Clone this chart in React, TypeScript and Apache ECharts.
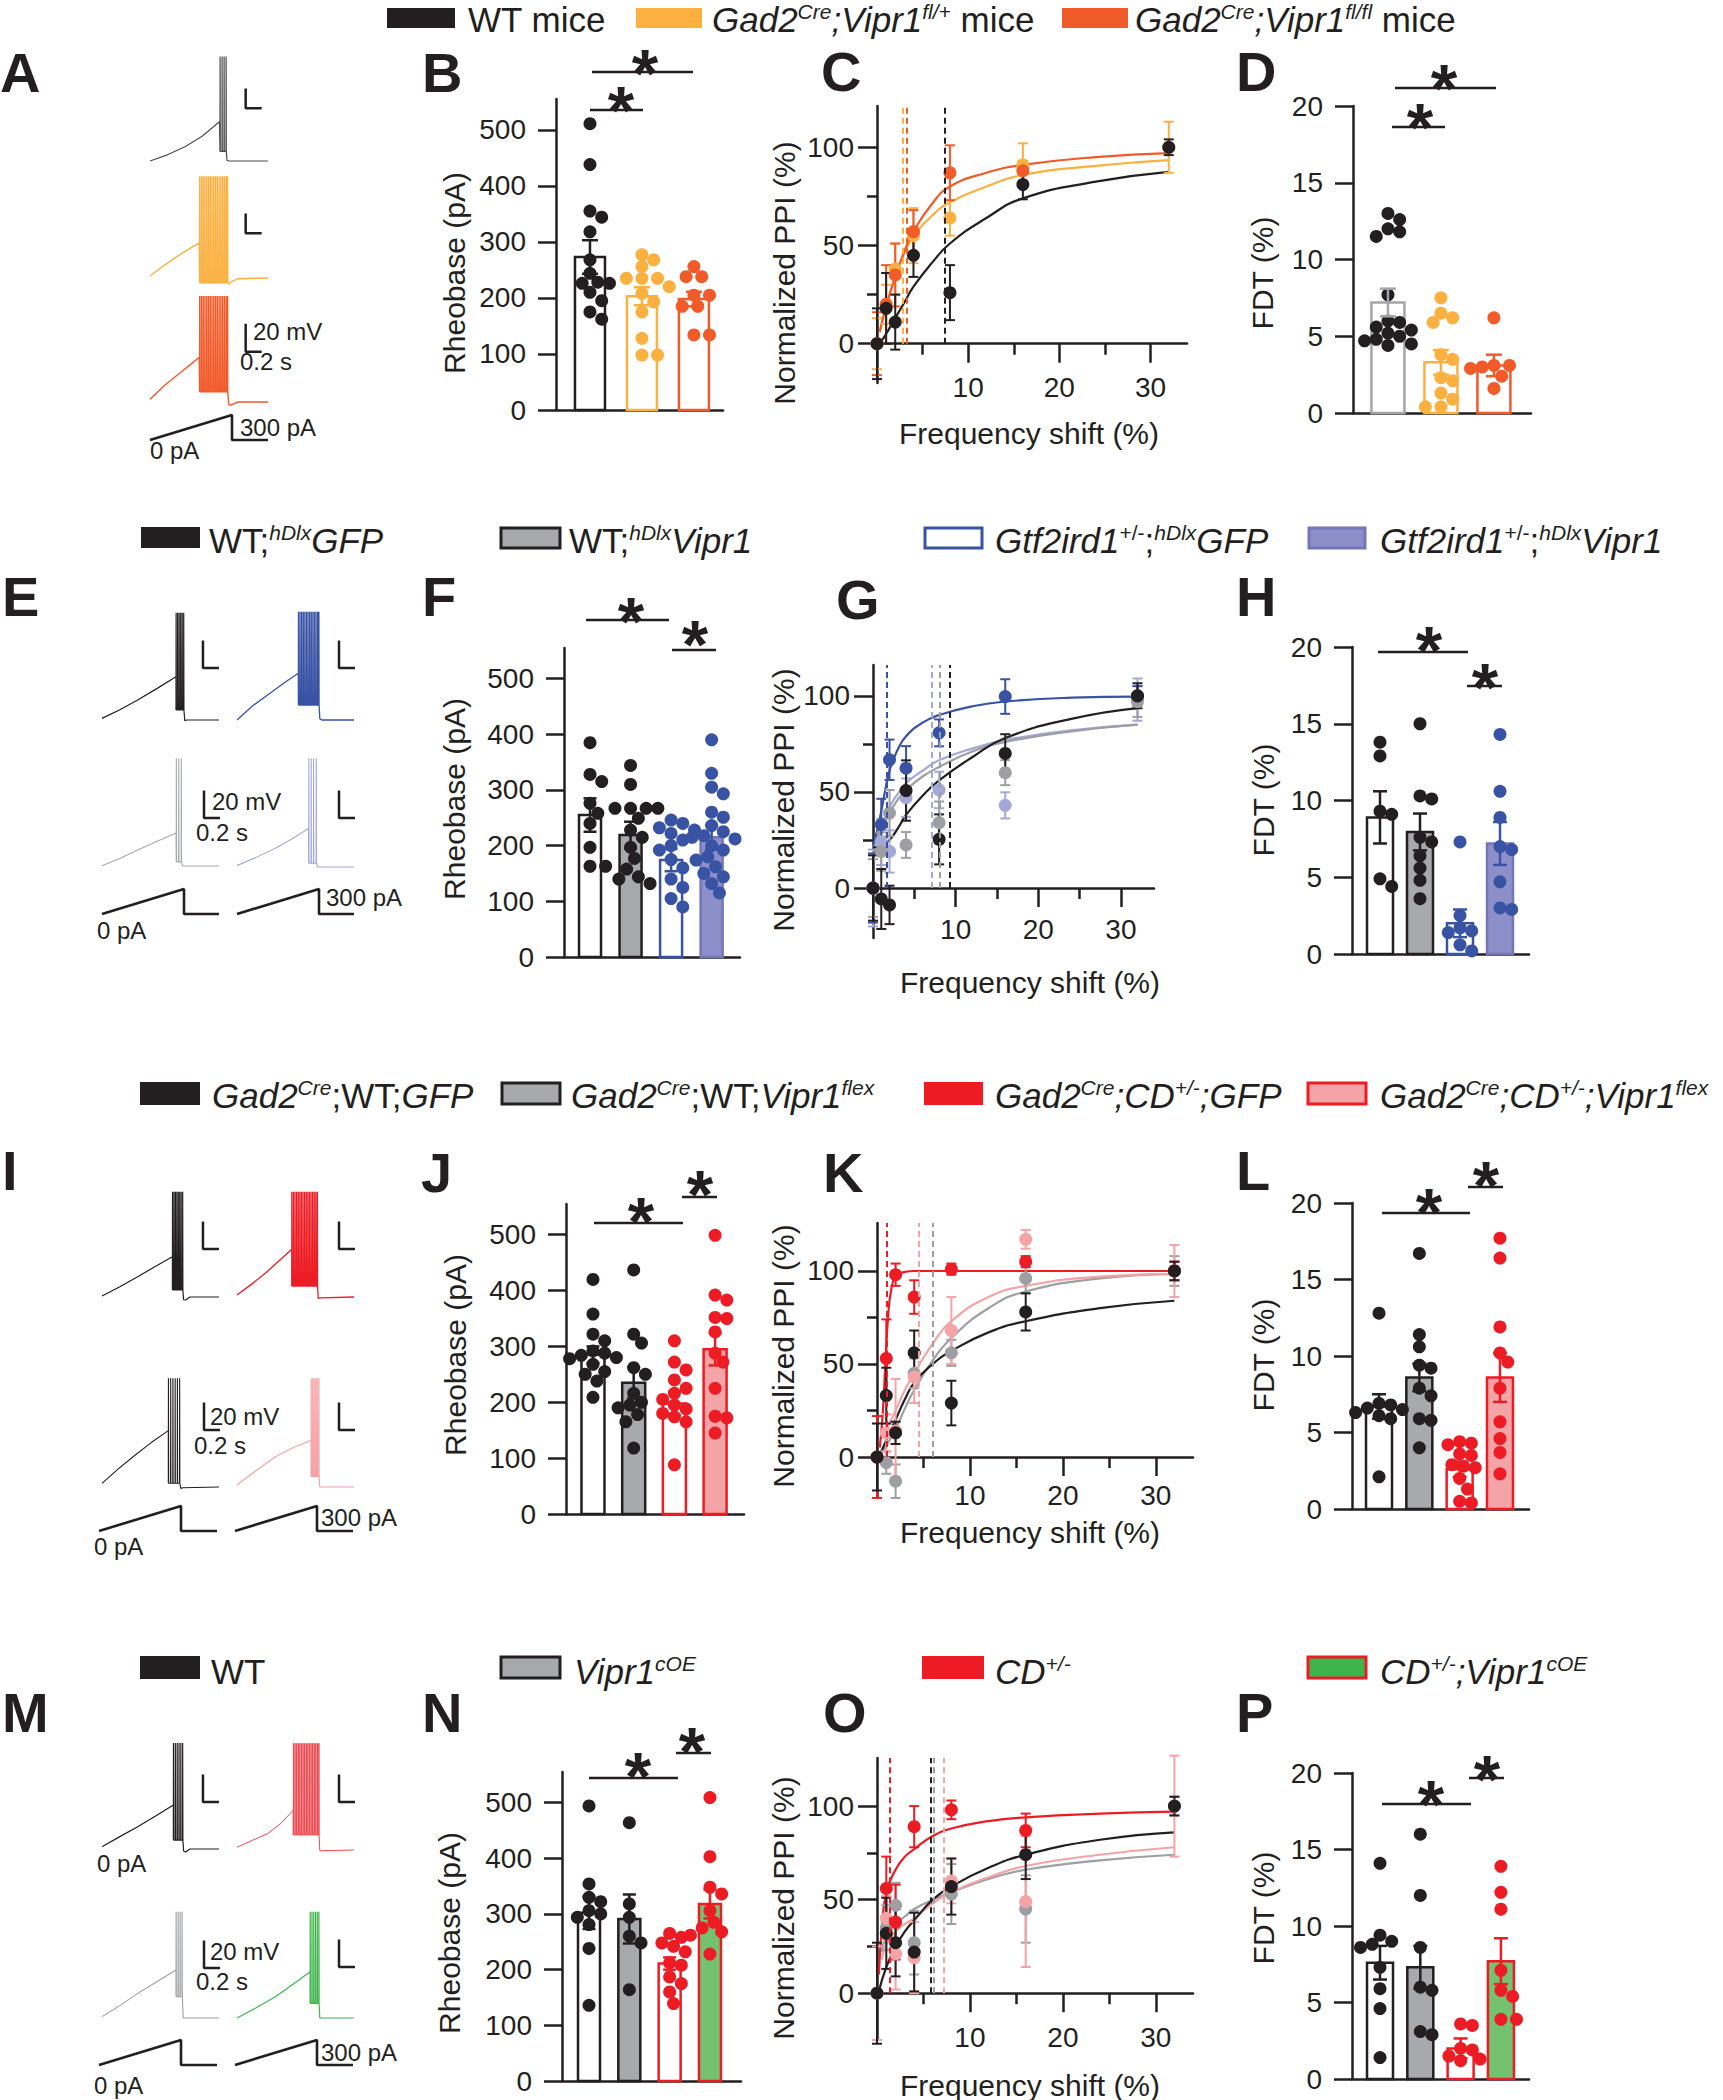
import React, { useEffect, useRef } from "react";
import * as echarts from "echarts";

const FONT = '"Liberation Sans", Arial, Helvetica, sans-serif';
const INK = "#231F20";
const ORANGE = "#FBB040";
const REDORANGE = "#F15A29";
const GRAY = "#A7A9AC";
const LIGHTGRAY = "#A3A5A8";
const MIDGRAY = "#9D9FA2";
const BLUE = "#3953A4";
const PURPLE = "#8C8FC9";
const PURPLE_EDGE = "#7377B8";
const LILAC = "#A4A8D6";
const RED = "#ED1C24";
const PINK = "#F4A3A7";
const GREEN = "#3DB54A";
const GREEN_BAR = "#74C271";
const WHITE = "#FFFFFF";

// ================= DATA =================
const RHEO_TICKS = [0, 100, 200, 300, 400, 500];
const FDT_TICKS = [0, 5, 10, 15, 20];
const PPI_TICKS = [0, 50, 100];
const PPI_MINOR = [25, 75];
const FS_TICKS = [10, 20, 30];
const FS_MINOR = [5, 15, 25];
const FREQ = [0, 1, 2, 4, 8, 16, 32];

// ---- Row 1: B (rheobase, pA)
const B_WT = [511, 438, 355, 344, 318, 268, 244, 228, 226, 226, 210, 195, 175, 162];
const B_HET = [277, 268, 256, 235, 235, 235, 220, 208, 193, 175, 128, 98, 98];
const B_HOM = [256, 238, 238, 205, 205, 185, 185, 134, 134];
const B_MEAN = [273, 203, 198];
const B_SEM = [30, 16, 13];
// ---- Row 1: D (FDT %)
const D_WT = [13.0, 12.6, 12.0, 11.8, 11.5, 7.7, 6.0, 5.9, 5.6, 5.4, 5.2, 5.0, 4.8, 4.7, 4.5, 4.4];
const D_HET = [7.5, 6.5, 6.2, 5.9, 3.8, 3.5, 2.3, 2.1, 1.3, 0.9, 0.4, 0.4];
const D_HOM = [6.2, 3.1, 3.1, 3.0, 2.9, 2.4, 1.6];
const D_MEAN = [7.2, 3.3, 3.1];
const D_SEM = [0.9, 0.8, 0.7];
// ---- Row 1: C (normalized PPI %)
const C_WT = [0, 18, 11, 45, 26, 81, 100];
const C_WT_ERR = [18, 18, 14, 11, 14, 7.5, 4];
const C_HET = [0, 20, 38, 55, 64, 91, 100];
const C_HET_ERR = [13, 10, 13, 14, 9, 11, 13];
const C_HOM = [0, 20, 35, 57, 87, 88, null];
const C_HOM_ERR = [16, 20, 16, 11, 14, 5, null];
const C_WT_FIT = [[0.3, 0], [1, 5], [2, 13], [3, 21], [4, 29], [6, 41], [8, 51], [12, 64], [16, 74], [24, 82.5], [32, 87.5]];
const C_HET_FIT = [[0.3, 6], [1, 19], [2, 34], [3, 46], [4, 54.5], [6, 65], [8, 72], [12, 80], [16, 86], [24, 90.5], [32, 93.4]];
const C_HOM_FIT = [[0.3, 6], [1, 19], [2, 34], [3, 47], [4, 57], [6, 71], [8, 80], [12, 87], [16, 91], [24, 95], [32, 97]];
const C_THR = [7.45, 2.85, 3.3]; // WT, fl/+, fl/fl

// ---- Row 2: F (rheobase)
const F_WT_GFP = [385, 328, 315, 276, 258, 240, 197, 163, 163];
const F_WT_VIPR = [344, 310, 267, 267, 267, 267, 249, 228, 215, 197, 177, 158, 144, 140, 132];
const F_GTF_GFP = [246, 240, 232, 228, 222, 210, 200, 192, 175, 160, 140, 125, 105, 90];
const F_GTF_VIPR = [390, 330, 305, 293, 260, 251, 236, 225, 218, 215, 212, 200, 192, 180, 174, 162, 150, 144, 132, 115];
const F_MEAN = [255, 219, 174, 215];
const F_SEM = [30, 24, 20, 22];
// ---- Row 2: H (FDT)
const H_WT_GFP = [13.8, 12.9, 9.3, 9.1, 4.9, 4.4];
const H_WT_VIPR = [15.0, 10.3, 10.1, 7.6, 7.3, 6.4, 5.6, 4.8, 3.6];
const H_GTF_GFP = [7.3, 2.5, 1.7, 1.5, 1.4, 0.6, 0.2];
const H_GTF_VIPR = [14.3, 10.6, 8.9, 7.0, 6.8, 4.7, 3.0, 2.9];
const H_MEAN = [8.9, 7.95, 2.0, 7.2];
const H_SEM = [1.7, 1.2, 0.9, 1.4];
// ---- Row 2: G (PPI)
const G_WT_GFP = [0, -5.7, -8.8, 50.7, 25.3, 70, 100];
const G_WT_GFP_ERR = [17, 15.6, 10, 15.7, 13, 10, 6.5];
const G_WT_VIPR = [0, 19, 39, 22.4, 34, 60, 97];
const G_WT_VIPR_ERR = [15, 10, 12, 6.7, 11, 6.5, 8];
const G_GTF_GFP = [0, 33, 66.7, 62.3, 80.7, 99.6, 100];
const G_GTF_GFP_ERR = [18, 13.4, 10.5, 11.5, 7, 9, 5];
const G_GTF_VIPR = [0, 24, 19, 47, 51, 43, 98];
const G_GTF_VIPR_ERR = [20, 12, 11, 10, 9.5, 6.8, 11];
const G_WT_GFP_FIT = [[0, 21], [1, 22], [2, 25], [3, 31], [4, 38], [6, 48], [8, 56], [12, 68], [16, 78], [24, 88], [32, 93.6]];
const G_WT_VIPR_FIT = [[0, 21], [1, 30], [2, 39], [3, 46], [4, 51], [6, 58], [8, 63], [12, 71], [16, 76], [24, 81.5], [32, 85]];
const G_GTF_GFP_FIT = [[0, 22], [0.5, 30], [1, 40], [2, 61], [3, 72], [4, 79], [6, 86], [8, 90], [12, 94.5], [16, 97], [24, 99], [32, 99.6]];
const G_GTF_VIPR_FIT = [[0, 22], [1, 32], [2, 42], [3, 49], [4, 54.6], [6, 61], [8, 66.5], [12, 72.5], [16, 77], [24, 82], [32, 85]];
const G_THR = [9.3, 8.1, 1.66, 7.1]; // WT;GFP, WT;Vipr1, Gtf;GFP, Gtf;Vipr1

// ---- Row 3: J (rheobase)
const J_WT_GFP = [420, 358, 322, 310, 292, 288, 284, 280, 278, 268, 255, 250, 238, 209];
const J_WT_VIPR = [437, 322, 306, 262, 250, 216, 200, 195, 190, 178, 165, 118];
const J_CD_GFP = [310, 272, 258, 240, 225, 216, 205, 195, 188, 180, 174, 165, 88];
const J_CD_VIPR = [499, 392, 383, 352, 350, 326, 288, 272, 225, 175, 172, 145];
const J_MEAN = [285, 235, 198, 295];
const J_SEM = [15, 28, 21, 29];
// ---- Row 3: L (FDT)
const L_WT_GFP = [12.8, 6.9, 6.8, 6.6, 6.5, 6.3, 6.1, 5.9, 2.1];
const L_WT_VIPR = [16.7, 11.4, 10.6, 9.4, 9.2, 7.9, 7.4, 5.9, 5.8, 4.0];
const L_CD_GFP = [4.4, 4.3, 4.2, 3.6, 3.5, 2.9, 2.8, 2.7, 2.0, 1.3, 0.5, 0.4];
const L_CD_VIPR = [17.7, 16.4, 11.9, 10.2, 9.6, 7.9, 5.7, 4.6, 3.7, 2.3];
const L_MEAN = [6.7, 8.6, 2.6, 8.6];
const L_SEM = [0.8, 0.9, 0.5, 1.6];
// ---- Row 3: K (PPI)
const K_WT_GFP = [0, 33, 13, 56, 29, 78, 100];
const K_WT_GFP_ERR = [18, 15, 6, 12, 12, 10, 5];
const K_WT_VIPR = [null, -3, -13, 45, 56, 96, 100];
const K_WT_VIPR_ERR = [null, 6, 9, 8, 7, 8, 8];
const K_CD_GFP = [0, 53, 98, 86, 101, 105, 100];
const K_CD_GFP_ERR = [22, 21, 6, 9, 3, 3, 5];
const K_CD_VIPR = [null, 13, 14, 43, 68, 117, 100];
const K_CD_VIPR_ERR = [null, 10, 28, 14, 18, 5, 14];
const K_WT_GFP_FIT = [[0.3, 1], [1, 9], [2, 20], [3, 31], [4, 40], [6, 50], [8, 57], [12, 67], [16, 73], [24, 80], [32, 84]];
const K_WT_VIPR_FIT = [[0.5, 2], [1, 6], [2, 15], [3, 26], [4, 36], [6, 52], [8, 64], [12, 80], [16, 89], [24, 96], [32, 98.5]];
const K_CD_GFP_FIT = [[0.3, 5], [0.6, 22], [0.9, 50], [1.2, 76], [1.5, 89], [2, 97], [3, 99.5], [4, 100], [8, 100], [16, 100], [32, 100]];
const K_CD_VIPR_FIT = [[0.4, 10], [1, 15], [2, 25], [3, 36], [4, 45], [6, 61], [8, 73], [12, 86], [16, 92], [24, 97], [32, 98.5]];
const K_THR = [null, 6.0, 1.0, 4.5];

// ---- Row 4: N (rheobase)
const N_WT = [494, 354, 330, 322, 306, 300, 294, 281, 238, 136];
const N_OE = [464, 318, 294, 260, 248, 164];
const N_CD = [265, 258, 248, 242, 232, 212, 208, 187, 175, 160, 139];
const N_CD_OE = [509, 403, 348, 336, 306, 285, 275, 268, 262, 228];
const N_MEAN = [302, 291, 211, 318];
const N_SEM = [29, 44, 11, 26];
// ---- Row 4: P (FDT)
const P_WT = [14.1, 9.4, 9.0, 8.8, 8.6, 7.3, 5.9, 4.6, 1.4];
const P_OE = [16.0, 12.0, 8.6, 6.0, 5.8, 3.1, 2.9];
const P_CD = [3.6, 3.5, 2.0, 1.9, 1.5, 1.3, 1.2];
const P_CD_OE = [13.9, 12.2, 11.1, 7.1, 5.8, 5.4, 3.9, 3.9];
const P_MEAN = [7.6, 7.3, 2.0, 7.7];
const P_SEM = [1.1, 1.4, 0.65, 1.5];
// ---- Row 4: O (PPI)
const O_WT = [0, 32, 27, 22, 57, 74, 100];
const O_WT_ERR = [27, 19, 18, 21, 15, 13, 5];
const O_OE = [null, 35, 47, 27, 53, 45, 100];
const O_OE_ERR = [null, 12, 12, 17, 16, 18, 5];
const O_CD = [null, 56, 38, 89, 98, 87, null];
const O_CD_ERR = [null, 17, 20, 11, 5, 9, null];
const O_CD_OE = [0, 40, 21, 19, 60, 49, 100];
const O_CD_OE_ERR = [25, 12, 19, 19, 12, 35, 27];
const O_WT_FIT = [[0.2, 1], [1, 14], [2, 25], [3, 33], [4, 39], [6, 50], [8, 57], [12, 67], [16, 74], [24, 82], [32, 86]];
const O_OE_FIT = [[0.5, 22], [1, 30], [2, 37], [3, 41], [4, 45], [6, 50], [8, 54], [12, 61], [16, 66], [24, 71], [32, 74]];
const O_CD_FIT = [[0.2, 10], [0.5, 33], [1, 54], [2, 66], [3, 73], [4, 77], [6, 84], [8, 88], [12, 92], [16, 94], [24, 96], [32, 97]];
const O_CD_OE_FIT = [[0.5, 18], [1, 26], [2, 33], [3, 37], [4, 40], [6, 48], [8, 54], [12, 62], [16, 68], [24, 74], [32, 78]];
const O_THR = [5.8, 6.1, 1.4, 7.2];

// ---- Example traces (time ms, membrane potential mV relative to rest)
const TR_A1 = { ramp: [[0, 0], [217, 4.5], [437, 10.4], [651, 18], [868, 28.5]], spikes: [875, 900, 925, 950], peak: 76, trough: 7, tail: [[962, 0.5], [985, 0], [1475, 0]] };
const TR_A2 = { ramp: [[0, 1.5], [150, 8], [305, 14.5], [470, 20.5], [616, 25.5]], spikes: [620, 642, 664, 686, 708, 730, 752, 774, 796, 818, 840, 862, 884, 906, 928, 950, 968], peak: 74, trough: -3.4, tail: [[985, -4.5], [1010, -3], [1100, -0.5], [1475, 0]] };
const TR_A3 = { ramp: [[0, 2], [180, 12], [362, 20.5], [500, 27], [616, 32.5]], spikes: [620, 642, 664, 686, 708, 730, 752, 774, 796, 818, 840, 862, 884, 906, 928, 950, 968], peak: 77, trough: 7.5, tail: [[985, -2], [1010, -2.2], [1100, 0], [1475, 0]] };
const TR_E1 = { ramp: [[0, 1.2], [223, 7.5], [446, 14.5], [690, 23], [925, 31.5]], spikes: [925, 944, 963, 982, 1001, 1020], peak: 78, trough: 7.3, tail: [[1035, -0.5], [1060, 0], [1462, 0]] };
const TR_E2 = { ramp: [[0, 0], [200, 10.5], [413, 19.4], [600, 27.5], [767, 34]], spikes: [767, 787, 807, 827, 847, 867, 887, 907, 927, 947, 967, 987, 1007, 1022], peak: 78.8, trough: 10.9, tail: [[1035, 1], [1060, 0], [1462, 0]] };
const TR_E3 = { ramp: [[0, 0.2], [223, 5.5], [446, 11.6], [690, 18], [925, 24]], spikes: [928, 958, 990], peak: 78.3, trough: 3, tail: [[1005, 0], [1462, 0]] };
const TR_E4 = { ramp: [[0, 1], [240, 7], [480, 13.6], [690, 20.5], [894, 28]], spikes: [896, 926, 956, 990], peak: 79, trough: 2.7, tail: [[1005, 0], [1462, 0]] };
const TR_I1 = { ramp: [[0, 0.7], [223, 7.5], [446, 14.8], [660, 22], [880, 29.3]], spikes: [880, 898, 916, 934, 952, 970, 988, 1007], peak: 76.6, trough: 5.1, tail: [[1020, -2], [1045, -2.2], [1100, 0], [1462, 0]] };
const TR_I2 = { ramp: [[0, 1.5], [175, 9], [353, 17.2], [520, 26], [684, 34.7]], spikes: [684, 704, 724, 744, 764, 784, 804, 824, 844, 864, 884, 904, 924, 944, 964, 984, 1003], peak: 76.6, trough: 8, tail: [[1015, -1], [1040, -0.7], [1462, 0]] };
const TR_I3 = { ramp: [[0, 2.7], [200, 13], [415, 23.3], [620, 32.5], [829, 41]], spikes: [829, 857, 885, 913, 941, 969], peak: 79, trough: 2.7, tail: [[985, -1], [1010, -0.5], [1462, 0]] };
const TR_I4 = { ramp: [[0, 1.5], [240, 12], [480, 22], [700, 28.5], [926, 34]], spikes: [926, 945, 964, 983, 1002, 1022], peak: 79, trough: 7.5, tail: [[1035, 0], [1462, 0]] };
const TR_M1 = { ramp: [[0, 1.7], [223, 9], [446, 16.2], [670, 24], [892, 32]], spikes: [892, 915, 938, 961, 984, 1007], peak: 77, trough: 6.5, tail: [[1020, -1.5], [1045, -2.2], [1100, 0], [1462, 0]] };
const TR_M2 = { ramp: [[0, 2], [190, 7], [385, 12], [550, 19.5], [704, 29]], spikes: [704, 724, 744, 764, 784, 804, 824, 844, 864, 884, 904, 924, 944, 964, 984, 1004, 1022], peak: 77.6, trough: 10.9, tail: [[1035, -0.5], [1060, -0.5], [1462, 0]] };
const TR_M3 = { ramp: [[0, 1], [223, 9], [446, 17.9], [690, 26.5], [925, 34.9]], spikes: [925, 950, 975, 1000], peak: 77.3, trough: 15.5, tail: [[1015, 0], [1462, 0]] };
const TR_M4 = { ramp: [[0, 0], [240, 7.5], [480, 15.5], [700, 24.5], [914, 33.7]], spikes: [914, 936, 958, 980, 1002, 1022], peak: 77.3, trough: 10.7, tail: [[1035, 0], [1462, 0]] };
// Current ramp (ms, pA)
const STIM_RAMP = [[0, 0], [1025, 300], [1025, 0]];

// ================= LAYOUT =================
const PX_MS = 0.08;
const PX_MV = 1.375;
const PX_PA = 25 / 300;
const AXW = 2.5;
const DOT = 13;

function swarmOffsets(values: number[], pxPerY: number, d: number): number[] {
  const order = values.map((_, i) => i).sort((a, b) => values[b] - values[a]);
  const placed: number[][] = [];
  const out = new Array(values.length).fill(0);
  for (const i of order) {
    const y = values[i] * pxPerY;
    let x = 0;
    for (let k = 0; k < 60; k++) {
      const cand = k === 0 ? 0 : (k % 2 ? 1 : -1) * Math.ceil(k / 2) * d * 0.3;
      if (placed.every(([px, py]) => (px - cand) ** 2 + (py - y) ** 2 >= (d * 0.9) ** 2)) {
        x = cand;
        break;
      }
    }
    placed.push([x, y]);
    out[i] = x;
  }
  return out;
}

function buildOption() {
  const grid: any[] = [];
  const xAxis: any[] = [];
  const yAxis: any[] = [];
  const series: any[] = [];
  const graphic: any[] = [];
  const lineStyle = { color: INK, width: AXW };
  const labelStyle = { fontSize: 28, fontFamily: FONT, color: INK };

  const addGrid = (left: number, top: number, width: number, height: number) => {
    grid.push({ left, top, width, height, containLabel: false, show: false });
    return grid.length - 1;
  };

  const errSeries = (xi: number, yi: number, items: number[][], color: string, capW: number, lw: number, z: number) => ({
    type: "custom",
    xAxisIndex: xi,
    yAxisIndex: yi,
    z,
    clip: false,
    silent: true,
    data: items,
    renderItem: (params: any, api: any) => {
      const x = api.value(0), m = api.value(1), s = api.value(2);
      const a = api.coord([x, m + s]);
      const b = api.coord([x, m - s]);
      const h = capW / 2;
      const st = { stroke: color, lineWidth: lw };
      return {
        type: "group",
        children: [
          { type: "line", shape: { x1: a[0], y1: a[1], x2: b[0], y2: b[1] }, style: st },
          { type: "line", shape: { x1: a[0] - h, y1: a[1], x2: a[0] + h, y2: a[1] }, style: st },
          { type: "line", shape: { x1: b[0] - h, y1: b[1], x2: b[0] + h, y2: b[1] }, style: st },
        ],
      };
    },
  });

  // ---------- bar + dot panels ----------
  const barPanel = (L: any, groups: any[]) => {
    const gi = addGrid(L.left, L.top, L.right - L.left, L.bottom - L.top);
    const xi = xAxis.length;
    xAxis.push({
      type: "value", gridIndex: gi, min: L.xMin, max: L.xMax,
      axisLine: { show: true, onZero: false, lineStyle }, axisTick: { show: false },
      axisLabel: { show: false }, splitLine: { show: false },
    });
    const yi = yAxis.length;
    yAxis.push({
      type: "value", gridIndex: gi, min: 0, max: L.yMax,
      axisLine: { show: true, onZero: false, lineStyle },
      axisTick: { show: true, length: 18, lineStyle, customValues: L.ticks },
      axisLabel: { show: true, customValues: L.ticks, margin: 30, ...labelStyle },
      splitLine: { show: false },
    });
    const pxX = (L.right - L.left) / (L.xMax - L.xMin);
    const pxY = (L.bottom - L.top) / L.yMax;
    series.push({
      type: "custom", xAxisIndex: xi, yAxisIndex: yi, z: 2, clip: false, silent: true,
      data: groups.map((g, i) => [i, g.mean]),
      renderItem: (params: any, api: any) => {
        const g = groups[params.dataIndex];
        const base = api.coord([api.value(0), 0]);
        const top = api.coord([api.value(0), api.value(1)]);
        return {
          type: "rect",
          shape: { x: base[0] - L.barW / 2, y: top[1], width: L.barW, height: base[1] - top[1] },
          style: { fill: g.fill, stroke: g.stroke, lineWidth: 2.5 },
        };
      },
    });
    groups.forEach((g, i) => {
      const offs = swarmOffsets(g.values, pxY, DOT);
      series.push({
        type: "scatter", xAxisIndex: xi, yAxisIndex: yi, z: 3, silent: true,
        symbol: "circle", symbolSize: DOT,
        itemStyle: { color: g.dot, opacity: 1 },
        data: g.values.map((v: number, k: number) => [i + offs[k] / pxX, v]),
      });
    });
    groups.forEach((g, i) => {
      series.push(errSeries(xi, yi, [[i, g.mean, g.sem]], g.err, L.capW, 2.5, 4));
    });
  };

  // ---------- PPI panels ----------
  const ppiPanel = (L: any, groups: any[]) => {
    const gi = addGrid(L.left, L.top, L.width, L.height);
    const zeroY = L.top + (L.height * L.yMax) / (L.yMax - L.yMin);
    const off = zeroY - (L.top + L.height); // negative: lift x axis onto y = 0
    const xi = xAxis.length;
    xAxis.push({
      type: "value", gridIndex: gi, position: "bottom", offset: off, min: 0, max: L.xMax,
      axisLine: { show: true, onZero: false, lineStyle },
      axisTick: { show: true, length: 19, lineStyle, customValues: FS_TICKS },
      axisLabel: { show: true, customValues: FS_TICKS, margin: L.xMargin, ...labelStyle },
      splitLine: { show: false },
    });
    xAxis.push({
      type: "value", gridIndex: gi, position: "bottom", offset: off, min: 0, max: L.xMax,
      axisLine: { show: false, onZero: false },
      axisTick: { show: true, length: 11, lineStyle, customValues: FS_MINOR },
      axisLabel: { show: false }, splitLine: { show: false },
    });
    const yi = yAxis.length;
    yAxis.push({
      type: "value", gridIndex: gi, position: "left", min: L.yMin, max: L.yMax,
      axisLine: { show: true, onZero: false, lineStyle },
      axisTick: { show: true, length: 19, lineStyle, customValues: PPI_TICKS },
      axisLabel: { show: true, customValues: PPI_TICKS, margin: 23, ...labelStyle },
      splitLine: { show: false },
    });
    yAxis.push({
      type: "value", gridIndex: gi, position: "left", min: L.yMin, max: L.yMax,
      axisLine: { show: false, onZero: false },
      axisTick: { show: true, length: 10, lineStyle, customValues: PPI_MINOR },
      axisLabel: { show: false }, splitLine: { show: false },
    });
    groups.forEach((g) => {
      series.push({
        type: "line", xAxisIndex: xi, yAxisIndex: yi, z: 2, silent: true,
        data: g.fit, smooth: 0.5, showSymbol: false, symbol: "none",
        lineStyle: { color: g.color, width: 2.2 },
        markLine: g.thr == null ? undefined : {
          silent: true, symbol: ["none", "none"], label: { show: false },
          lineStyle: { color: g.color, type: [6, 4], width: 2 },
          emphasis: { disabled: true },
          data: [[{ coord: [g.thr, 0] }, { coord: [g.thr, L.yMax] }]],
        },
      });
    });
    groups.forEach((g) => {
      const items: number[][] = [];
      FREQ.forEach((f, i) => {
        if (g.y[i] != null && g.err[i] != null) items.push([f, g.y[i], g.err[i]]);
      });
      series.push(errSeries(xi, yi, items, g.color, 10, 2, 3));
    });
    groups.forEach((g) => {
      const pts: number[][] = [];
      FREQ.forEach((f, i) => { if (g.y[i] != null) pts.push([f, g.y[i]]); });
      series.push({
        type: "scatter", xAxisIndex: xi, yAxisIndex: yi, z: 4, silent: true,
        symbol: "circle", symbolSize: 13, itemStyle: { color: g.color, opacity: 1 }, data: pts,
      });
    });
  };

  // ---------- traces ----------
  const trace = (tr: any, left: number, base: number, color: string, sb: number[], lw: number) => {
    const gi = addGrid(left, base - 100 * PX_MV, 1475 * PX_MS, 120 * PX_MV);
    const xi = xAxis.length;
    xAxis.push({ type: "value", gridIndex: gi, min: 0, max: 1475, show: false });
    const yi = yAxis.length;
    yAxis.push({ type: "value", gridIndex: gi, min: -20, max: 100, show: false });
    const pts: number[][] = tr.ramp.slice();
    tr.spikes.forEach((s: number) => {
      pts.push([s, tr.trough], [s + 1.5, tr.peak], [s + 4, tr.trough]);
    });
    tr.tail.forEach((p: number[]) => pts.push(p));
    series.push({
      type: "line", xAxisIndex: xi, yAxisIndex: yi, silent: true, clip: false,
      data: pts, showSymbol: false, symbol: "none", lineStyle: { color, width: lw },
    });
    // scale bar: sb = [t, v, height in mV], 200 ms wide
    series.push({
      type: "line", xAxisIndex: xi, yAxisIndex: yi, silent: true, clip: false,
      data: [[sb[0], sb[1] + sb[2]], [sb[0], sb[1]], [sb[0] + 200, sb[1]]],
      showSymbol: false, symbol: "none", lineStyle: { color: INK, width: 2.5 },
    });
  };
  const stim = (left: number, bottom: number, end: number) => {
    const gi = addGrid(left, bottom - 300 * PX_PA, end * PX_MS, 300 * PX_PA);
    const xi = xAxis.length;
    xAxis.push({ type: "value", gridIndex: gi, min: 0, max: end, show: false });
    const yi = yAxis.length;
    yAxis.push({ type: "value", gridIndex: gi, min: 0, max: 300, show: false });
    series.push({
      type: "line", xAxisIndex: xi, yAxisIndex: yi, silent: true, clip: false,
      data: [...STIM_RAMP, [end, 0]], showSymbol: false, symbol: "none",
      lineStyle: { color: INK, width: 2.6 },
    });
  };

  // ---------- text helpers ----------
  const text = (x: number, y: number, t: string, size: number, extra: any = {}) => {
    graphic.push({
      type: "text", x, y, silent: true, rotation: extra.rotation || 0,
      style: {
        text: t, fontSize: size, fontFamily: FONT, fill: INK,
        fontWeight: extra.bold ? "bold" : "normal",
        textAlign: extra.align || "left", textVerticalAlign: "middle",
      },
    });
  };
  const vname = (x: number, y: number, t: string) => text(x, y, t, 30, { rotation: Math.PI / 2, align: "center" });
  const letter = (x: number, y: number, t: string) => text(x, y, t, 56, { bold: true });
  const sig = (x1: number, x2: number, y: number, ax: number, ay: number) => {
    graphic.push({ type: "line", silent: true, shape: { x1, y1: y, x2, y2: y }, style: { stroke: INK, lineWidth: 2.5 } });
    text(ax, ay + 15, "*", 68, { bold: true, align: "center" });
  };
  const LEG_RICH = {
    n: { fontSize: 35, fontFamily: FONT, fill: INK, lineHeight: 36 },
    i: { fontSize: 35, fontFamily: FONT, fontStyle: "italic", fill: INK, lineHeight: 36 },
    s: { fontSize: 21, fontFamily: FONT, fill: INK, lineHeight: 20, verticalAlign: "top" },
    si: { fontSize: 21, fontFamily: FONT, fontStyle: "italic", fill: INK, lineHeight: 20, verticalAlign: "top" },
  };
  const legend = (rx: number, ry: number, rw: number, rh: number, fill: string, stroke: string | null, tx: number, ty: number, rich: string) => {
    graphic.push({
      type: "rect", silent: true, shape: { x: rx, y: ry, width: rw, height: rh },
      style: { fill, stroke: stroke || "none", lineWidth: stroke ? 3 : 0 },
    });
    graphic.push({
      type: "text", x: tx, y: ty, silent: true,
      style: { text: rich, textAlign: "left", textVerticalAlign: "middle", rich: LEG_RICH },
    });
  };

  // ================= ROW 1 =================
  legend(387, 8, 68, 20, INK, null, 468, 19, "{n|WT mice}");
  legend(636, 8, 66, 20, ORANGE, null, 712, 19, "{i|Gad2}{si|Cre}{i|;Vipr1}{si|fl/+}{n| mice}");
  legend(1062, 8, 66, 20, REDORANGE, null, 1135, 19, "{i|Gad2}{si|Cre}{i|;Vipr1}{si|fl/fl}{n| mice}");
  letter(0, 72, "A"); letter(422, 72, "B"); letter(821, 71, "C"); letter(1236, 71, "D");

  [
    { tr: TR_A1, left: 150, base: 161, color: "#4D4D4F", sb: [1196, 38.3, 14.5], lw: 1.2 },
    { tr: TR_A2, left: 150, base: 278, color: ORANGE, sb: [1196, 32.5, 14.5], lw: 1.4 },
    { tr: TR_A3, left: 150, base: 402, color: REDORANGE, sb: [1196, 36.6, 20.4], lw: 1.4 },
  ].forEach((t) => trace(t.tr, t.left, t.base, t.color, t.sb, t.lw));
  stim(150, 440, 1475);
  text(253, 331, "20 mV", 24); text(240, 361, "0.2 s", 24);
  text(240, 427, "300 pA", 24); text(150, 450, "0 pA", 24);

  barPanel(
    { left: 556, top: 99, right: 723, bottom: 410, yMax: 555, ticks: RHEO_TICKS, xMin: -0.654, xMax: 2.56, barW: 30, capW: 16 },
    [
      { values: B_WT, mean: B_MEAN[0], sem: B_SEM[0], fill: WHITE, stroke: INK, dot: INK, err: INK },
      { values: B_HET, mean: B_MEAN[1], sem: B_SEM[1], fill: WHITE, stroke: ORANGE, dot: ORANGE, err: ORANGE },
      { values: B_HOM, mean: B_MEAN[2], sem: B_SEM[2], fill: WHITE, stroke: REDORANGE, dot: REDORANGE, err: REDORANGE },
    ]
  );
  vname(454, 273, "Rheobase (pA)");
  sig(592, 693, 72, 645, 58);
  sig(590, 643, 110, 621, 95);

  ppiPanel(
    { left: 877, top: 106, width: 310, height: 277, yMin: -20, yMax: 121, xMax: 34, xMargin: 30 },
    [
      { color: ORANGE, y: C_HET, err: C_HET_ERR, fit: C_HET_FIT, thr: C_THR[1] },
      { color: REDORANGE, y: C_HOM, err: C_HOM_ERR, fit: C_HOM_FIT, thr: C_THR[2] },
      { color: INK, y: C_WT, err: C_WT_ERR, fit: C_WT_FIT, thr: C_THR[0] },
    ]
  );
  vname(784, 273, "Normalized PPI (%)");
  text(1029, 433, "Frequency shift (%)", 30, { align: "center" });

  barPanel(
    { left: 1353, top: 106, right: 1531, bottom: 413, yMax: 20, ticks: FDT_TICKS, xMin: -0.66, xMax: 2.7, barW: 33, capW: 16 },
    [
      { values: D_WT, mean: D_MEAN[0], sem: D_SEM[0], fill: WHITE, stroke: LIGHTGRAY, dot: INK, err: LIGHTGRAY },
      { values: D_HET, mean: D_MEAN[1], sem: D_SEM[1], fill: WHITE, stroke: ORANGE, dot: ORANGE, err: ORANGE },
      { values: D_HOM, mean: D_MEAN[2], sem: D_SEM[2], fill: WHITE, stroke: REDORANGE, dot: REDORANGE, err: REDORANGE },
    ]
  );
  vname(1262, 273, "FDT (%)");
  sig(1395, 1496, 88, 1444, 73);
  sig(1392, 1445, 127, 1420, 112);

  // ================= ROW 2 =================
  legend(141, 527, 59, 21, INK, null, 209, 540, "{n|WT;}{si|hDlx}{i|GFP}");
  legend(501, 528, 59, 20, GRAY, INK, 569, 540, "{n|WT;}{si|hDlx}{i|Vipr1}");
  legend(925, 528, 57, 20, WHITE, BLUE, 995, 540, "{i|Gtf2ird1}{s|+/-}{n|;}{si|hDlx}{i|GFP}");
  legend(1309, 528, 56, 20, PURPLE, PURPLE_EDGE, 1380, 540, "{i|Gtf2ird1}{s|+/-}{n|;}{si|hDlx}{i|Vipr1}");
  letter(2, 596, "E"); letter(422, 596, "F"); letter(836, 599, "G"); letter(1236, 596, "H");

  [
    { tr: TR_E1, left: 102, base: 720, color: INK, sb: [1262, 37.8, 20], lw: 1.2 },
    { tr: TR_E2, left: 237, base: 720, color: BLUE, sb: [1275, 37.8, 20], lw: 1.3 },
    { tr: TR_E3, left: 102, base: 866, color: GRAY, sb: [1275, 35, 20], lw: 1.1 },
    { tr: TR_E4, left: 237, base: 867, color: LILAC, sb: [1275, 35.6, 20], lw: 1.1 },
  ].forEach((t) => trace(t.tr, t.left, t.base, t.color, t.sb, t.lw));
  stim(102, 914, 1462);
  stim(237, 914, 1462);
  text(212, 801, "20 mV", 24); text(196, 832, "0.2 s", 24);
  text(326, 897, "300 pA", 24); text(97, 930, "0 pA", 24);

  barPanel(
    { left: 564, top: 648, right: 740, bottom: 957, yMax: 555, ticks: RHEO_TICKS, xMin: -0.642, xMax: 3.7, barW: 22, capW: 13 },
    [
      { values: F_WT_GFP, mean: F_MEAN[0], sem: F_SEM[0], fill: WHITE, stroke: INK, dot: INK, err: INK },
      { values: F_WT_VIPR, mean: F_MEAN[1], sem: F_SEM[1], fill: GRAY, stroke: INK, dot: INK, err: INK },
      { values: F_GTF_GFP, mean: F_MEAN[2], sem: F_SEM[2], fill: WHITE, stroke: BLUE, dot: BLUE, err: BLUE },
      { values: F_GTF_VIPR, mean: F_MEAN[3], sem: F_SEM[3], fill: PURPLE, stroke: PURPLE_EDGE, dot: BLUE, err: BLUE },
    ]
  );
  vname(454, 799, "Rheobase (pA)");
  sig(586, 669, 620, 631, 606);
  sig(672, 716, 650, 695, 629);

  ppiPanel(
    { left: 873, top: 665, width: 281, height: 273, yMin: -26, yMax: 116, xMax: 34, xMargin: 27 },
    [
      { color: LILAC, y: G_GTF_VIPR, err: G_GTF_VIPR_ERR, fit: G_GTF_VIPR_FIT, thr: G_THR[3] },
      { color: MIDGRAY, y: G_WT_VIPR, err: G_WT_VIPR_ERR, fit: G_WT_VIPR_FIT, thr: G_THR[1] },
      { color: BLUE, y: G_GTF_GFP, err: G_GTF_GFP_ERR, fit: G_GTF_GFP_FIT, thr: G_THR[2] },
      { color: INK, y: G_WT_GFP, err: G_WT_GFP_ERR, fit: G_WT_GFP_FIT, thr: G_THR[0] },
    ]
  );
  vname(783, 800, "Normalized PPI (%)");
  text(1030, 982, "Frequency shift (%)", 30, { align: "center" });

  barPanel(
    { left: 1352, top: 647, right: 1529, bottom: 954, yMax: 20, ticks: FDT_TICKS, xMin: -0.7, xMax: 3.725, barW: 26, capW: 14 },
    [
      { values: H_WT_GFP, mean: H_MEAN[0], sem: H_SEM[0], fill: WHITE, stroke: INK, dot: INK, err: INK },
      { values: H_WT_VIPR, mean: H_MEAN[1], sem: H_SEM[1], fill: GRAY, stroke: INK, dot: INK, err: INK },
      { values: H_GTF_GFP, mean: H_MEAN[2], sem: H_SEM[2], fill: WHITE, stroke: BLUE, dot: BLUE, err: BLUE },
      { values: H_GTF_VIPR, mean: H_MEAN[3], sem: H_SEM[3], fill: PURPLE, stroke: PURPLE_EDGE, dot: BLUE, err: BLUE },
    ]
  );
  vname(1263, 800, "FDT (%)");
  sig(1378, 1468, 652, 1429, 635);
  sig(1467, 1502, 686, 1485, 672);

  // ================= ROW 3 =================
  legend(140, 1082, 60, 23, INK, null, 212, 1095, "{i|Gad2}{si|Cre}{n|;WT;}{i|GFP}");
  legend(502, 1083, 58, 21, GRAY, INK, 571, 1095, "{i|Gad2}{si|Cre}{n|;WT;}{i|Vipr1}{si|flex}");
  legend(924, 1082, 59, 23, RED, null, 995, 1095, "{i|Gad2}{si|Cre}{i|;CD}{si|+/-}{i|;GFP}");
  legend(1308, 1083, 58, 21, PINK, RED, 1380, 1095, "{i|Gad2}{si|Cre}{i|;CD}{si|+/-}{i|;Vipr1}{si|flex}");
  letter(2, 1170, "I"); letter(421, 1172, "J"); letter(823, 1172, "K"); letter(1236, 1170, "L");

  [
    { tr: TR_I1, left: 102, base: 1297, color: INK, sb: [1262, 35, 20], lw: 1.2 },
    { tr: TR_I2, left: 237, base: 1297, color: RED, sb: [1275, 35, 20], lw: 1.3 },
    { tr: TR_I3, left: 102, base: 1487, color: INK, sb: [1275, 41.5, 20], lw: 1.1 },
    { tr: TR_I4, left: 237, base: 1487, color: PINK, sb: [1275, 41.5, 20], lw: 1.2 },
  ].forEach((t) => trace(t.tr, t.left, t.base, t.color, t.sb, t.lw));
  stim(99, 1531, 1475);
  stim(235, 1531, 1475);
  text(210, 1416, "20 mV", 24); text(194, 1445, "0.2 s", 24);
  text(321, 1517, "300 pA", 24); text(94, 1546, "0 pA", 24);

  barPanel(
    { left: 566, top: 1204, right: 744, bottom: 1514, yMax: 555, ticks: RHEO_TICKS, xMin: -0.663, xMax: 3.71, barW: 23, capW: 13 },
    [
      { values: J_WT_GFP, mean: J_MEAN[0], sem: J_SEM[0], fill: WHITE, stroke: INK, dot: INK, err: INK },
      { values: J_WT_VIPR, mean: J_MEAN[1], sem: J_SEM[1], fill: GRAY, stroke: INK, dot: INK, err: INK },
      { values: J_CD_GFP, mean: J_MEAN[2], sem: J_SEM[2], fill: WHITE, stroke: RED, dot: RED, err: RED },
      { values: J_CD_VIPR, mean: J_MEAN[3], sem: J_SEM[3], fill: PINK, stroke: RED, dot: RED, err: RED },
    ]
  );
  vname(455, 1355, "Rheobase (pA)");
  sig(594, 683, 1223, 641, 1206);
  sig(682, 717, 1197, 700, 1179);

  ppiPanel(
    { left: 877, top: 1223, width: 316, height: 274, yMin: -21.5, yMax: 125.8, xMax: 34, xMargin: 24 },
    [
      { color: MIDGRAY, y: K_WT_VIPR, err: K_WT_VIPR_ERR, fit: K_WT_VIPR_FIT, thr: K_THR[1] },
      { color: PINK, y: K_CD_VIPR, err: K_CD_VIPR_ERR, fit: K_CD_VIPR_FIT, thr: K_THR[3] },
      { color: RED, y: K_CD_GFP, err: K_CD_GFP_ERR, fit: K_CD_GFP_FIT, thr: K_THR[2] },
      { color: INK, y: K_WT_GFP, err: K_WT_GFP_ERR, fit: K_WT_GFP_FIT, thr: K_THR[0] },
    ]
  );
  vname(783, 1356, "Normalized PPI (%)");
  text(1030, 1532, "Frequency shift (%)", 30, { align: "center" });

  barPanel(
    { left: 1352, top: 1203, right: 1529, bottom: 1509, yMax: 20, ticks: FDT_TICKS, xMin: -0.67, xMax: 3.72, barW: 26, capW: 14 },
    [
      { values: L_WT_GFP, mean: L_MEAN[0], sem: L_SEM[0], fill: WHITE, stroke: INK, dot: INK, err: INK },
      { values: L_WT_VIPR, mean: L_MEAN[1], sem: L_SEM[1], fill: GRAY, stroke: INK, dot: INK, err: INK },
      { values: L_CD_GFP, mean: L_MEAN[2], sem: L_SEM[2], fill: WHITE, stroke: RED, dot: RED, err: RED },
      { values: L_CD_VIPR, mean: L_MEAN[3], sem: L_SEM[3], fill: PINK, stroke: RED, dot: RED, err: RED },
    ]
  );
  vname(1263, 1355, "FDT (%)");
  sig(1382, 1470, 1213, 1429, 1197);
  sig(1468, 1503, 1187, 1486, 1170);

  // ================= ROW 4 =================
  legend(140, 1656, 60, 23, INK, null, 211, 1671, "{n|WT}");
  legend(501, 1657, 59, 21, GRAY, INK, 574, 1671, "{i|Vipr1}{si|cOE}");
  legend(922, 1656, 62, 23, RED, null, 995, 1671, "{i|CD}{si|+/-}");
  legend(1308, 1657, 58, 21, GREEN, RED, 1380, 1671, "{i|CD}{si|+/-}{i|;Vipr1}{si|cOE}");
  letter(2, 1712, "M"); letter(422, 1712, "N"); letter(823, 1712, "O"); letter(1236, 1712, "P");

  [
    { tr: TR_M1, left: 102, base: 1849, color: INK, sb: [1262, 34.2, 20], lw: 1.2 },
    { tr: TR_M2, left: 237, base: 1850, color: "#EF4850", sb: [1275, 34.9, 20], lw: 1.0 },
    { tr: TR_M3, left: 102, base: 2018, color: MIDGRAY, sb: [1275, 36.4, 20], lw: 1.1 },
    { tr: TR_M4, left: 237, base: 2018, color: GREEN, sb: [1275, 37.1, 20], lw: 1.2 },
  ].forEach((t) => trace(t.tr, t.left, t.base, t.color, t.sb, t.lw));
  stim(99, 2065, 1475);
  stim(235, 2065, 1475);
  text(210, 1951, "20 mV", 24); text(196, 1981, "0.2 s", 24);
  text(321, 2052, "300 pA", 24); text(94, 2085, "0 pA", 24);
  text(97, 1863, "0 pA", 24);

  barPanel(
    { left: 562, top: 1772, right: 741, bottom: 2081, yMax: 555, ticks: RHEO_TICKS, xMin: -0.67, xMax: 3.77, barW: 22, capW: 13 },
    [
      { values: N_WT, mean: N_MEAN[0], sem: N_SEM[0], fill: WHITE, stroke: INK, dot: INK, err: INK },
      { values: N_OE, mean: N_MEAN[1], sem: N_SEM[1], fill: GRAY, stroke: INK, dot: INK, err: INK },
      { values: N_CD, mean: N_MEAN[2], sem: N_SEM[2], fill: WHITE, stroke: RED, dot: RED, err: RED },
      { values: N_CD_OE, mean: N_MEAN[3], sem: N_SEM[3], fill: GREEN_BAR, stroke: RED, dot: RED, err: RED },
    ]
  );
  vname(449, 1933, "Rheobase (pA)");
  sig(589, 678, 1778, 638, 1761);
  sig(676, 711, 1753, 692, 1736);

  ppiPanel(
    { left: 877, top: 1758, width: 316, height: 282, yMin: -25, yMax: 125.7, xMax: 34, xMargin: 30 },
    [
      { color: MIDGRAY, y: O_OE, err: O_OE_ERR, fit: O_OE_FIT, thr: O_THR[1] },
      { color: PINK, y: O_CD_OE, err: O_CD_OE_ERR, fit: O_CD_OE_FIT, thr: O_THR[3] },
      { color: RED, y: O_CD, err: O_CD_ERR, fit: O_CD_FIT, thr: O_THR[2] },
      { color: INK, y: O_WT, err: O_WT_ERR, fit: O_WT_FIT, thr: O_THR[0] },
    ]
  );
  vname(783, 1908, "Normalized PPI (%)");
  text(1030, 2085, "Frequency shift (%)", 30, { align: "center" });

  barPanel(
    { left: 1352, top: 1773, right: 1529, bottom: 2079, yMax: 20, ticks: FDT_TICKS, xMin: -0.695, xMax: 3.697, barW: 26, capW: 14 },
    [
      { values: P_WT, mean: P_MEAN[0], sem: P_SEM[0], fill: WHITE, stroke: INK, dot: INK, err: INK },
      { values: P_OE, mean: P_MEAN[1], sem: P_SEM[1], fill: GRAY, stroke: INK, dot: INK, err: INK },
      { values: P_CD, mean: P_MEAN[2], sem: P_SEM[2], fill: WHITE, stroke: RED, dot: RED, err: RED },
      { values: P_CD_OE, mean: P_MEAN[3], sem: P_SEM[3], fill: GREEN_BAR, stroke: RED, dot: RED, err: RED },
    ]
  );
  vname(1263, 1908, "FDT (%)");
  sig(1382, 1471, 1804, 1431, 1789);
  sig(1469, 1504, 1778, 1487, 1764);

  return {
    animation: false,
    backgroundColor: "#FFFFFF",
    textStyle: { fontFamily: FONT },
    grid,
    xAxis,
    yAxis,
    series,
    graphic: { elements: graphic },
  };
}

export default function App() {
  const ref = useRef<HTMLDivElement>(null);
  useEffect(() => {
    const chart = echarts.init(ref.current as HTMLDivElement, null, { renderer: "svg" });
    chart.setOption(buildOption() as any);
    return () => chart.dispose();
  }, []);
  return (
    <div
      ref={ref}
      style={{ position: "absolute", left: 0, top: 0, width: 1723, height: 2100, background: "#fff" }}
    />
  );
}
